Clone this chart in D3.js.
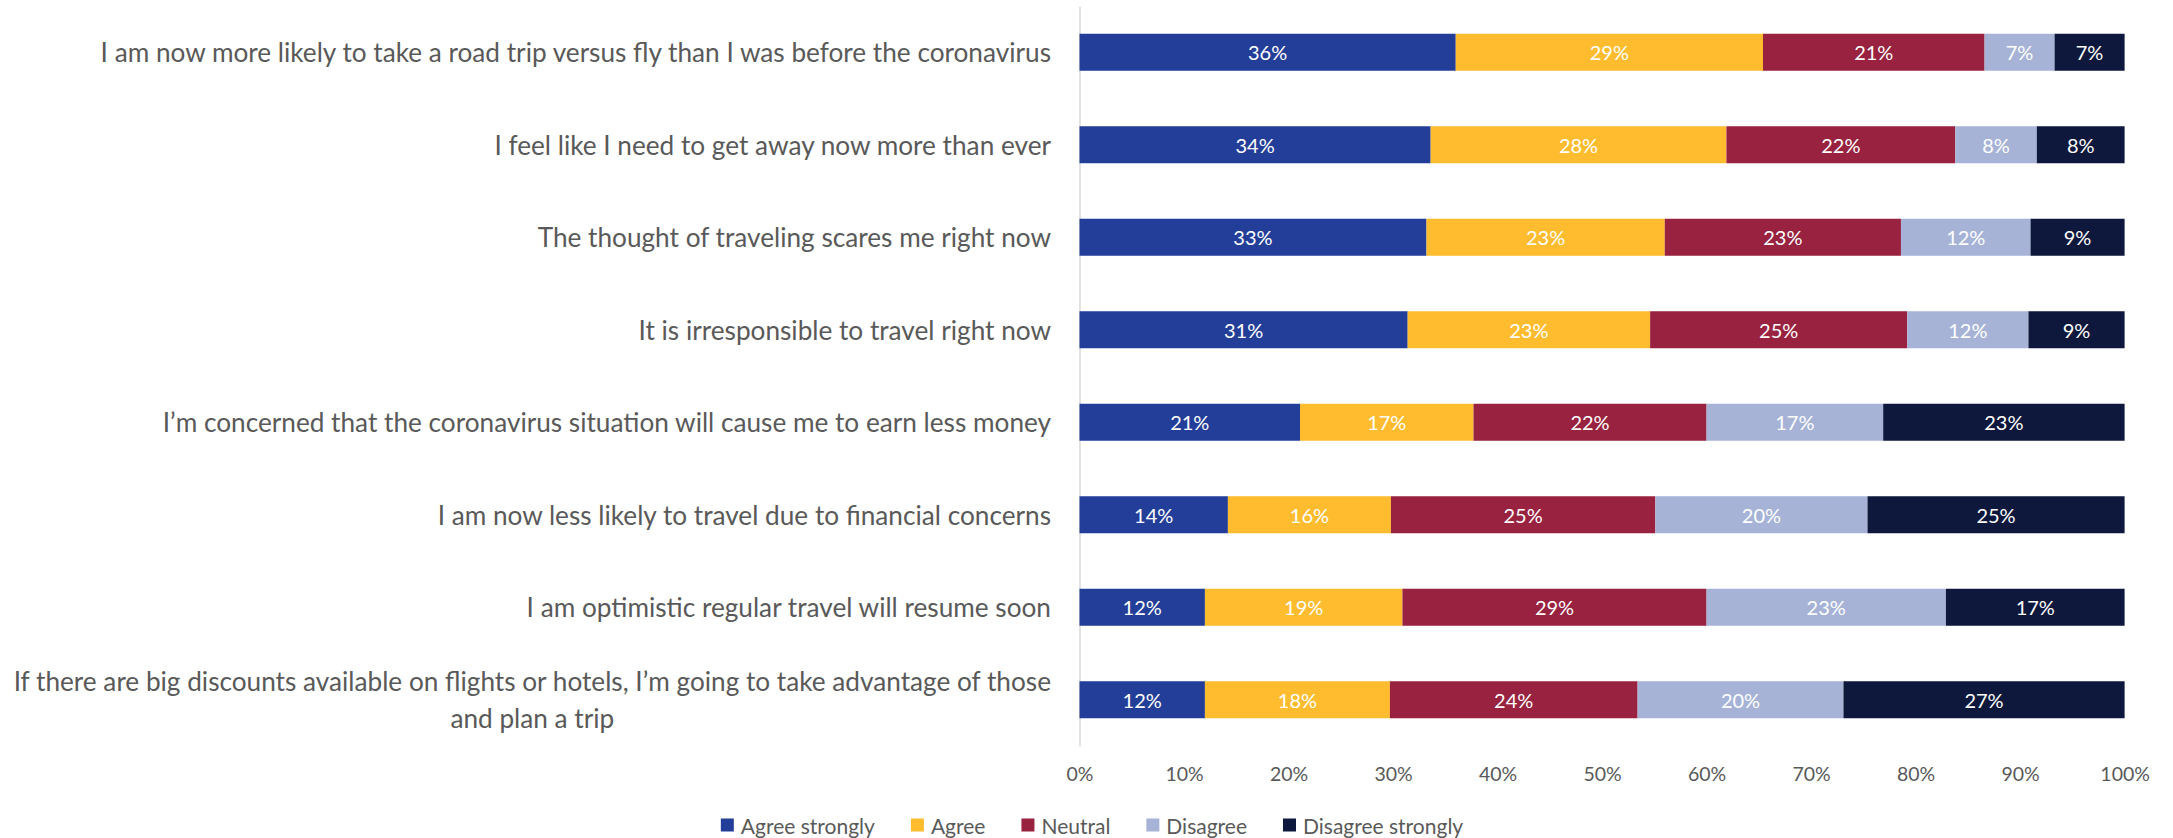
<!DOCTYPE html>
<html>
<head>
<meta charset="utf-8">
<script src="https://cdn.jsdelivr.net/npm/d3@7"></script>
<style>
  html, body { margin: 0; padding: 0; background: #ffffff; }
  svg { display: block; }
  text { font-family: Lato, "Open Sans", sans-serif; }
</style>
</head>
<body>
<svg id="chart" width="2173" height="838"></svg>
<script>
const categories = [
  "I am now more likely to take a road trip versus fly than I was before the coronavirus",
  "I feel like I need to get away now more than ever",
  "The thought of traveling scares me right now",
  "It is irresponsible to travel right now",
  "I’m concerned that the coronavirus situation will cause me to earn less money",
  "I am now less likely to travel due to financial concerns",
  "I am optimistic regular travel will resume soon",
  "If there are big discounts available on flights or hotels, I’m going to take advantage of those\nand plan a trip"
];
const seriesNames = ["Agree strongly", "Agree", "Neutral", "Disagree", "Disagree strongly"];
const seriesColors = ["#233E99", "#FFBC2F", "#98223F", "#A6B3D7", "#0E183C"];
const agreeStrongly    = [36.0, 33.6, 33.2, 31.4, 21.1, 14.2, 12.0, 12.0];
const agree            = [29.4, 28.3, 22.8, 23.2, 16.6, 15.6, 18.9, 17.7];
const neutral          = [21.2, 21.9, 22.6, 24.6, 22.3, 25.3, 29.1, 23.7];
const disagree         = [ 6.7,  7.8, 12.4, 11.6, 16.9, 20.3, 22.9, 19.7];
const disagreeStrongly = [ 6.7,  8.4,  9.0,  9.2, 23.1, 24.6, 17.1, 26.9];
const xTicks = [0, 10, 20, 30, 40, 50, 60, 70, 80, 90, 100];

const seriesValues = [agreeStrongly, agree, neutral, disagree, disagreeStrongly];
const rows = categories.map((c, i) => {
  const r = { category: c };
  seriesNames.forEach((s, j) => { r[s] = seriesValues[j][i]; });
  return r;
});
const stacked = d3.stack().keys(seriesNames)(rows);

const svg = d3.select("#chart");
const x = d3.scaleLinear().domain([0, 100]).range([1079.5, 2124.6]);
const y = d3.scaleBand().domain(categories).range([6, 746]).paddingInner(0.6).paddingOuter(0.3);
const color = d3.scaleOrdinal().domain(seriesNames).range(seriesColors);

// vertical category axis line
const yAxis = svg.append("g").attr("transform", `translate(${x(0)},0)`)
  .call(d3.axisLeft(y).tickSize(0).tickFormat(""));
yAxis.select(".domain").attr("stroke", "#D9D9D9").attr("stroke-width", 1.5);

// bars
const layers = svg.append("g").selectAll("g").data(stacked).join("g")
  .attr("fill", d => color(d.key));
layers.selectAll("rect").data(d => d).join("rect")
  .attr("x", d => x(d[0]))
  .attr("width", d => x(d[1]) - x(d[0]))
  .attr("y", d => y(d.data.category))
  .attr("height", y.bandwidth());

// data labels
const labels = svg.append("g").selectAll("g").data(stacked).join("g");
labels.selectAll("text").data(d => d).join("text")
  .attr("x", d => (x(d[0]) + x(d[1])) / 2)
  .attr("y", d => y(d.data.category) + y.bandwidth() / 2)
  .attr("text-anchor", "middle")
  .attr("dominant-baseline", "central")
  .attr("fill", "#ffffff")
  .attr("font-size", 20)
  .text(d => Math.round(d[1] - d[0]) + "%");

// category labels
const labelRight = 1051;
const catFont = 26.2;
const catG = svg.append("g");
categories.forEach(c => {
  const lines = c.split("\n");
  const cy = y(c) + y.bandwidth() / 2;
  const lh = 37;
  const t0 = catG.append("text")
    .attr("x", labelRight)
    .attr("y", cy - (lines.length - 1) * lh / 2)
    .attr("text-anchor", "end")
    .attr("dominant-baseline", "central")
    .attr("fill", "#595959")
    .attr("font-size", catFont)
    .text(lines[0]);
  if (lines.length > 1) {
    const w = t0.node().getComputedTextLength();
    lines.slice(1).forEach((ln, k) => {
      catG.append("text")
        .attr("x", labelRight - w / 2)
        .attr("y", cy - (lines.length - 1) * lh / 2 + (k + 1) * lh)
        .attr("text-anchor", "middle")
        .attr("dominant-baseline", "central")
        .attr("fill", "#595959")
        .attr("font-size", catFont)
        .text(ln);
    });
  }
});

// x axis labels
const xAxis = svg.append("g").attr("transform", "translate(0,763)")
  .call(d3.axisBottom(x).tickValues(xTicks).tickSize(0).tickFormat(d => d + "%"));
xAxis.select(".domain").remove();
xAxis.selectAll("text")
  .attr("font-size", 19.5)
  .attr("font-family", "Lato, 'Open Sans', sans-serif")
  .attr("fill", "#595959")
  .attr("y", 10)
  .attr("dy", null)
  .attr("dominant-baseline", "central");

// legend
const legend = svg.append("g");
const sq = 13, gapText = 7, gapItem = 36, legendY = 825;
let cx = 0;
seriesNames.forEach(name => {
  const g = legend.append("g");
  g.append("rect").attr("x", 0).attr("y", legendY - sq / 2).attr("width", sq).attr("height", sq)
    .attr("fill", color(name));
  const t = g.append("text").attr("x", sq + gapText).attr("y", legendY)
    .attr("dominant-baseline", "central").attr("fill", "#595959").attr("font-size", 21).text(name);
  const w = sq + gapText + t.node().getComputedTextLength();
  g.attr("transform", `translate(${cx},0)`);
  cx += w + gapItem;
});
const totalW = cx - gapItem;
legend.attr("transform", `translate(${1092 - totalW / 2},0)`);
</script>
</body>
</html>
